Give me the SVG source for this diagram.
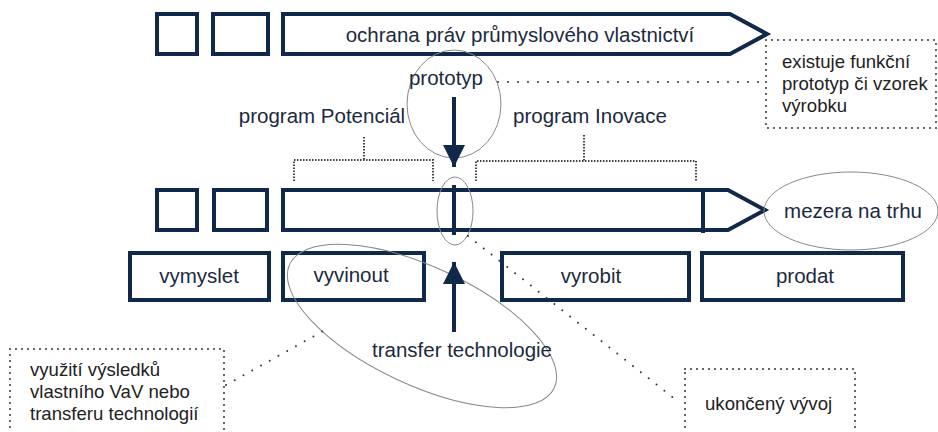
<svg xmlns="http://www.w3.org/2000/svg" width="938" height="432" viewBox="0 0 938 432">
<style>
.box{fill:none;stroke:#10294a;stroke-width:4}
.main{font-family:"Liberation Sans",Arial,sans-serif;font-size:20.5px;fill:#1b2a40}
.note{font-family:"Liberation Sans",Arial,sans-serif;font-size:18.6px;fill:#222}
.mid{text-anchor:middle}
.dotbox{fill:none;stroke:#333;stroke-width:2;stroke-dasharray:0 6;stroke-linecap:round}
.dotline{fill:none;stroke:#333;stroke-width:2;stroke-dasharray:0 10;stroke-linecap:round}
.bracket{fill:none;stroke:#444;stroke-width:2;stroke-dasharray:1.5 1.5}
.oval{fill:none;stroke:#888;stroke-width:1}
.arrow{stroke:#10294a;stroke-width:4;fill:none}
</style>
<defs>
<marker id="ah" viewBox="0 0 22 22" refX="22" refY="11" markerWidth="22" markerHeight="22" markerUnits="userSpaceOnUse" orient="auto">
<path d="M0,0 L22,11 L0,22 Z" fill="#10294a"/>
</marker>
</defs>
<rect width="938" height="432" fill="#fff"/>
<g id="top-row">
<rect class="box" x="157" y="14" width="40" height="40"/>
<rect class="box" x="213" y="14" width="55" height="40"/>
<path id="ochrana" class="box" d="M283,14 H730 L767,34 L730,54 H283 Z"/>
<text class="main mid" x="520" y="42">ochrana práv průmyslového vlastnictví</text>
</g>
<g id="node-existuje">
<rect class="dotbox" x="766" y="40" width="170" height="88"/>
<text class="note" x="782" y="68">existuje funkční</text>
<text class="note" x="782" y="90">prototyp či vzorek</text>
<text class="note" x="782" y="112">výrobku</text>
</g>
<g id="node-prototyp">
<ellipse class="oval" cx="454" cy="104" rx="47" ry="54"/>
<text class="main mid" x="446" y="85">prototyp</text>
</g>
<g id="label-potencial">
<text class="main mid" x="322" y="123">program Potenciál</text>
</g>
<g id="label-inovace">
<text class="main mid" x="590" y="123">program Inovace</text>
</g>
<g id="middle-row">
<rect class="box" x="157" y="190" width="40" height="40"/>
<rect class="box" x="214" y="190" width="53" height="40"/>
<path class="box" d="M283,190 H728 L765,210 L728,230 H283 Z"/>
<line class="arrow" x1="703" y1="188" x2="703" y2="233"/>
<line class="arrow" x1="454" y1="185" x2="454" y2="235"/>
<ellipse class="oval" cx="455" cy="211" rx="18" ry="34"/>
</g>
<g id="node-mezera">
<ellipse class="oval" cx="851" cy="211" rx="87" ry="39"/>
<text class="main mid" x="853" y="218">mezera na trhu</text>
</g>
<g id="node-vymyslet">
<rect class="box" x="130" y="253" width="139" height="47"/>
<text class="main mid" x="199" y="283">vymyslet</text>
</g>
<g id="node-vyvinout">
<rect class="box" x="283" y="253" width="141" height="47"/>
<text class="main mid" x="351" y="282">vyvinout</text>
</g>
<g id="node-vyrobit">
<rect class="box" x="502" y="253" width="187" height="47"/>
<text class="main mid" x="591" y="283">vyrobit</text>
</g>
<g id="node-prodat">
<rect class="box" x="702" y="253" width="201" height="47"/>
<text class="main mid" x="805" y="283">prodat</text>
</g>
<g id="node-transfer">
<ellipse class="oval" cx="422" cy="326" rx="146" ry="59" transform="rotate(25 422 326)"/>
<text class="main mid" x="462" y="357">transfer technologie</text>
</g>
<g id="node-vyuziti">
<rect class="dotbox" x="10" y="349" width="214" height="95"/>
<text class="note" x="30" y="376">využití výsledků</text>
<text class="note" x="30" y="398">vlastního VaV nebo</text>
<text class="note" x="30" y="420">transferu technologií</text>
</g>
<g id="node-ukonceny">
<rect class="dotbox" x="685" y="369" width="170" height="75"/>
<text class="note" x="705" y="410">ukončený vývoj</text>
</g>
<g id="connectors">
<line class="arrow" x1="454" y1="97" x2="454" y2="167" marker-end="url(#ah)"/>
<line class="arrow" x1="454" y1="332" x2="454" y2="262" marker-end="url(#ah)"/>
<line class="dotline" x1="498" y1="82" x2="764" y2="82"/>
<line class="dotline" x1="468" y1="236" x2="680" y2="403"/>
<line class="dotline" x1="226" y1="385" x2="325" y2="330"/>
<path class="bracket" d="M364,137 V160 M294,181 V160 H433 V181"/>
<path class="bracket" d="M584,135 V161 M476,181 V161 H696 V181"/>
</g>
</svg>
